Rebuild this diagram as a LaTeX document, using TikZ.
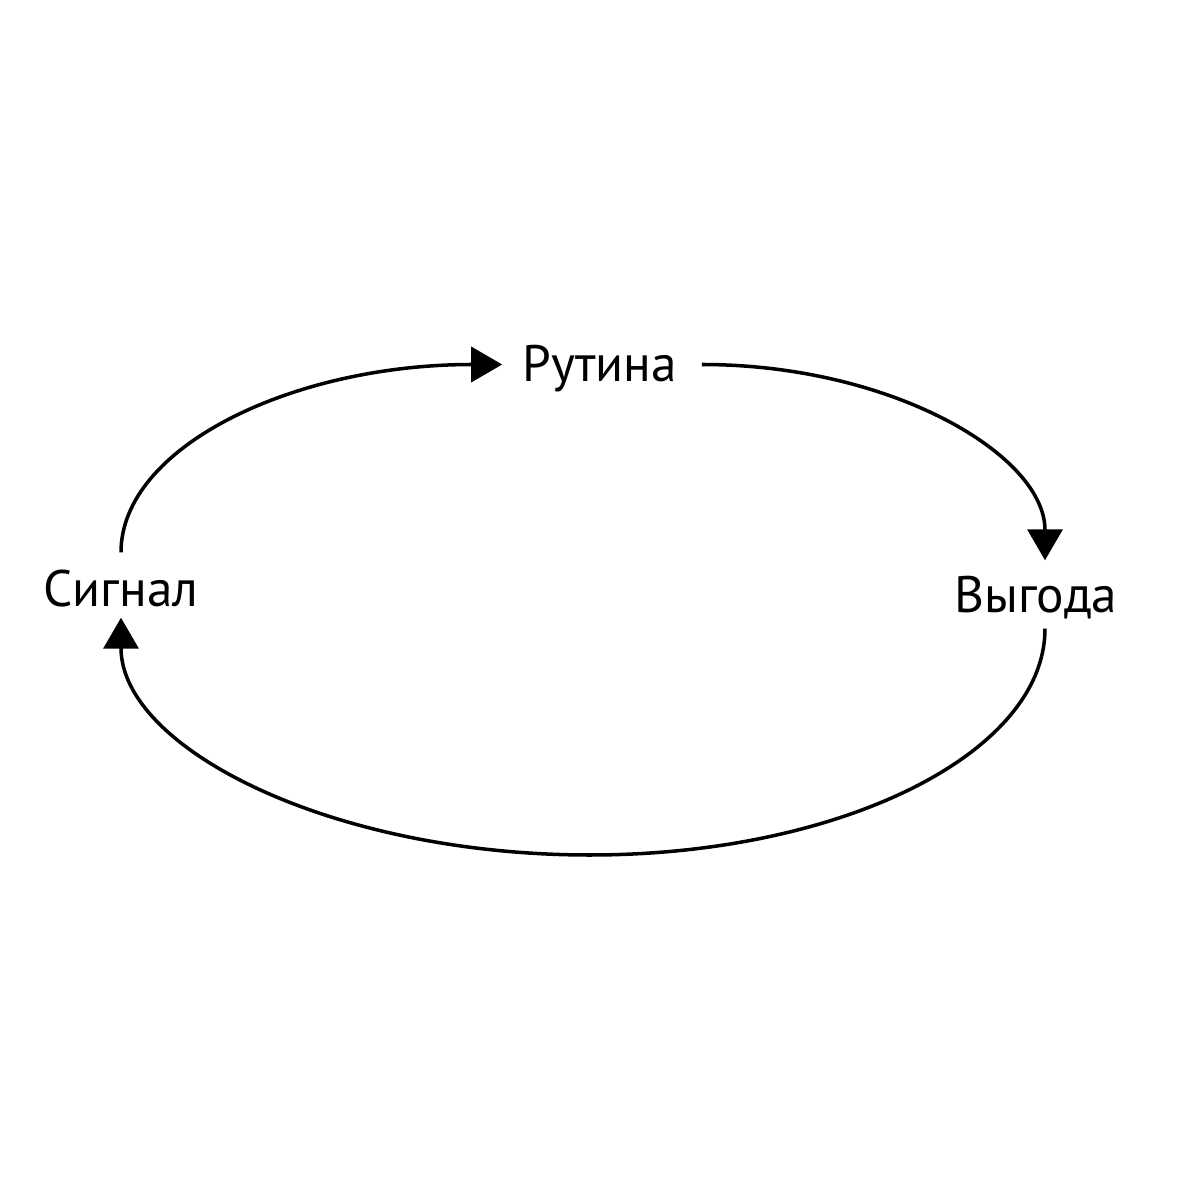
\documentclass[tikz,border=0pt]{standalone}
\usepackage{fontspec}
\setmainfont{PT Sans}
\usetikzlibrary{arrows.meta}

\begin{document}
\begin{tikzpicture}[>={Triangle[length=3.1mm,width=3.5mm]},
  lbl/.style={inner sep=0pt,text height=0.35cm,text depth=0pt,anchor=base,font=\fontsize{14.6}{17}\selectfont},
  cyc/.style={->,line width=1pt,black}]
\useasboundingbox (0,0) rectangle (12,12);
\node[lbl] (sig) at (1.21,5.93) {Сигнал};
\node[lbl] (rut) at (6.0,8.18) {Рутина};
\node[lbl] (vyg) at (10.36,5.87) {Выгода};
\coordinate (bot) at (5.9,3.45);
\draw[cyc] ([yshift=1.9mm]sig.north) .. controls +(0,1.05) and +(-2.1,0) .. ([xshift=-2mm]rut.west);
\draw[cyc] ([xshift=2.4mm]rut.east) .. controls +(1.9,0) and +(0,1.05) .. ([shift={(0.9mm,1.7mm)}]vyg.north);
\draw[cyc] ([shift={(0.9mm,-1.5mm)}]vyg.south) .. controls +(0,-1.25) and +(2.5,0) .. (bot)
  .. controls +(-2.6,0) and +(0,-1.3) .. ([yshift=-1mm]sig.south);
\end{tikzpicture}
\end{document}
